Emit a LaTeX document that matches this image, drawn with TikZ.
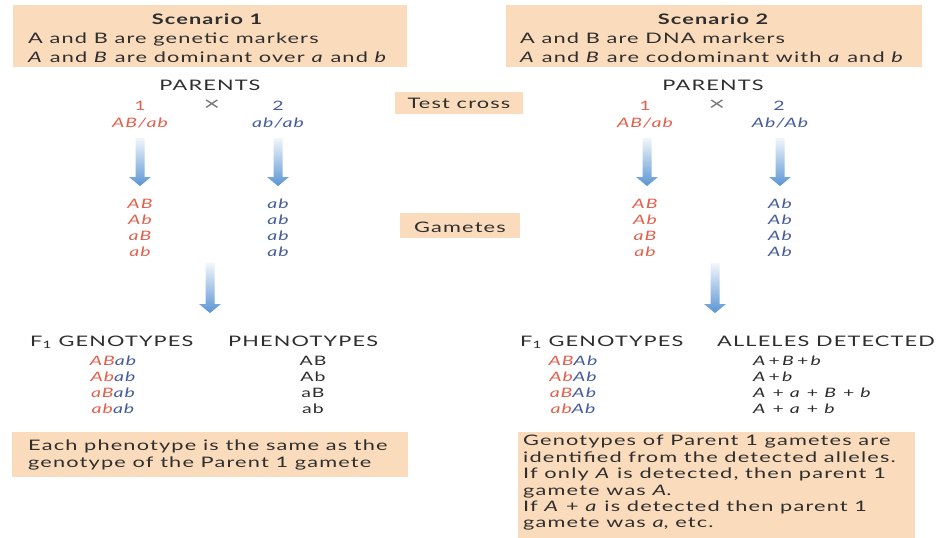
\documentclass[tikz,border=0pt]{standalone}
\usepackage{fontspec}
\setmainfont{Lato}[FakeStretch=1.5,LetterSpace=8]
\usetikzlibrary{calc}

\definecolor{boxfill}{HTML}{FADCBD}
\definecolor{txt}{HTML}{2E2E2E}
\definecolor{pred}{HTML}{E2604C}
\definecolor{pblue}{HTML}{445C9C}
\definecolor{arrowblue}{HTML}{5A95D3}
\definecolor{arrowtop}{HTML}{F2F6FB}

\newcommand\bigtxt{\fontsize{14.5}{17}\selectfont}
\newcommand\smalltxt{\fontsize{13}{15}\selectfont}

\tikzset{
  panel/.style={fill=boxfill, draw=none, inner sep=0pt, anchor=north west},
  body/.style={text=txt, inner sep=0pt, anchor=base west, font=\bigtxt},
  head/.style={text=txt, inner sep=0pt, anchor=base, font=\bigtxt},
  lbl/.style={inner sep=0pt, anchor=base, font=\smalltxt},
  redlbl/.style={lbl, text=pred, font=\smalltxt\itshape},
  bluelbl/.style={lbl, text=pblue, font=\smalltxt\itshape},
  crosssign/.style={inner sep=0pt, anchor=base, text=txt!65, font=\fontsize{19}{19}\selectfont},
}

% shaded block arrow from a top coordinate down to a tip coordinate
\newcommand\blockarrow[2]{%
  \shade[top color=arrowtop, bottom color=arrowblue]
    ($(#1)+(-4.5,0)$) -- ($(#2)+(-4.5,-9)$) -- ($(#2)+(-11,-9)$) -- (#2)
    -- ($(#2)+(11,-9)$) -- ($(#2)+(4.5,-9)$) -- ($(#1)+(4.5,0)$) -- cycle;}

\begin{document}
\begin{tikzpicture}[x=1pt,y=-1pt]
\fill[white] (0,0) rectangle (945,538);
\path[use as bounding box] (0,0) rectangle (945,538);

% ---- scenario headers
\node[panel, minimum width=394pt, minimum height=62pt] (sc1) at (13,5) {};
\node[panel, minimum width=416pt, minimum height=62pt] (sc2) at (506,5) {};
\node[head, font=\bigtxt\bfseries] (sc1t) at (207,24) {Scenario 1};
\node[body] (sc1a) at (28,43) {A and B are genetic markers};
\node[body] (sc1b) at (28,62) {\textit{A} and \textit{B} are dominant over \textit{a} and \textit{b}};
\node[head, font=\bigtxt\bfseries] (sc2t) at (713,24) {Scenario 2};
\node[body] (sc2a) at (520,43) {A and B are DNA markers};
\node[body] (sc2b) at (520,62) {\textit{A} and \textit{B} are codominant with \textit{a} and \textit{b}};

% ---- parents
\node[head] (parL) at (210,90) {PARENTS};
\node[head] (parR) at (713,90) {PARENTS};
\node[lbl, text=pred] (n1L) at (140,110) {1};
\node[crosssign] (xL) at (212,110) {×};
\node[lbl, text=pblue] (n2L) at (278,110) {2};
\node[lbl, text=pred] (n1R) at (645,110) {1};
\node[crosssign] (xR) at (717,110) {×};
\node[lbl, text=pblue] (n2R) at (779,110) {2};
\node[redlbl] (g1L) at (140,127) {AB/ab};
\node[bluelbl] (g2L) at (278,127) {ab/ab};
\node[redlbl] (g1R) at (645,127) {AB/ab};
\node[bluelbl] (g2R) at (780,127) {Ab/Ab};

% ---- centre labels
\node[panel, minimum width=128pt, minimum height=22pt] (tcbox) at (395,92) {};
\node[head] (tc) at (459,108) {Test cross};
\node[panel, minimum width=120pt, minimum height=25pt] (gmbox) at (400,213) {};
\node[head] (gm) at (460,232) {Gametes};

% ---- gametes
\foreach \g [count=\i] in {AB,Ab,aB,ab} {
  \node[redlbl] (gaL\i) at (140,192+16*\i) {\g};
  \node[bluelbl] (gbL\i) at (278,192+16*\i) {ab};
  \node[redlbl] (gaR\i) at (645,192+16*\i) {\g};
  \node[bluelbl] (gbR\i) at (780,192+16*\i) {Ab};
}

% ---- arrows
\coordinate (a1s) at (140,138); \coordinate (a1e) at (140,186);
\coordinate (a2s) at (278,138); \coordinate (a2e) at (278,186);
\coordinate (a3s) at (647,138); \coordinate (a3e) at (647,186);
\coordinate (a4s) at (780,138); \coordinate (a4e) at (780,186);
\coordinate (a5s) at (210,263); \coordinate (a5e) at (210,313);
\coordinate (a6s) at (715,263); \coordinate (a6e) at (715,313);
\blockarrow{a1s}{a1e}
\blockarrow{a2s}{a2e}
\blockarrow{a3s}{a3e}
\blockarrow{a4s}{a4e}
\blockarrow{a5s}{a5e}
\blockarrow{a6s}{a6e}

% ---- F1 tables
\node[body] (hL1) at (30,346) {F\textsubscript{1} GENOTYPES};
\node[body] (hL2) at (228,346) {PHENOTYPES};
\node[body] (hR1) at (520,346) {F\textsubscript{1} GENOTYPES};
\node[body] (hR2) at (717,346) {ALLELES DETECTED};
\foreach \g [count=\i] in {AB,Ab,aB,ab} {
  \node[lbl, font=\smalltxt\itshape] (fL\i) at (113,349+16*\i)
    {\textcolor{pred}{\g}\textcolor{pblue}{ab}};
  \node[lbl, text=txt] (pL\i) at (313,349+16*\i) {\g};
  \node[lbl, font=\smalltxt\itshape] (fR\i) at (573,349+16*\i)
    {\textcolor{pred}{\g}\textcolor{pblue}{Ab}};
}
\node[lbl, anchor=base west, text=txt] (d1) at (753,365) {\textit{A}\,+\,\textit{B}\,+\,\textit{b}};
\node[lbl, anchor=base west, text=txt] (d2) at (753,381) {\textit{A}\,+\,\textit{b}};
\node[lbl, anchor=base west, text=txt] (d3) at (753,397) {\textit{A} + \textit{a} + \textit{B} + \textit{b}};
\node[lbl, anchor=base west, text=txt] (d4) at (753,413) {\textit{A} + \textit{a} + \textit{b}};

% ---- notes
\node[panel, minimum width=396pt, minimum height=45pt] (noteL) at (12,432) {};
\node[body] (nL1) at (28,450) {Each phenotype is the same as the};
\node[body] (nL2) at (28,467) {genotype of the Parent 1 gamete};
\node[panel, minimum width=397pt, minimum height=110pt] (noteR) at (518,432) {};
\node[body] (nR1) at (523,445) {Genotypes of Parent 1 gametes are};
\node[body] (nR2) at (523,462) {identified from the detected alleles.};
\node[body] (nR3) at (523,478) {If only \textit{A} is detected, then parent 1};
\node[body] (nR4) at (523,495) {gamete was \textit{A}.};
\node[body] (nR5) at (523,511) {If \textit{A} + \textit{a} is detected then parent 1};
\node[body] (nR6) at (523,527) {gamete was \textit{a}, etc.};
\end{tikzpicture}
\end{document}
